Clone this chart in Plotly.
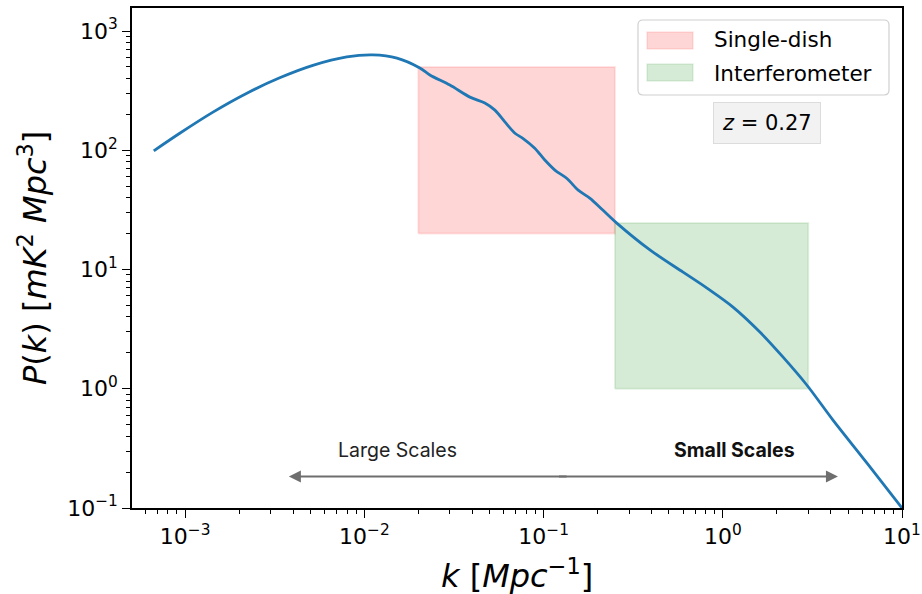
import numpy as np
import plotly.graph_objects as go

# ---- data ----
k_vals = [6.68e-4, 9.33e-4, 1.43e-3, 2.21e-3, 3.37e-3, 5.16e-3, 7.98e-3, 0.01115, 0.0152,
          0.0204, 0.0232, 0.0300, 0.0388, 0.0470, 0.0535, 0.0608, 0.0692, 0.0766, 0.0893,
          0.1016, 0.1156, 0.135, 0.156, 0.181, 0.214, 0.256, 0.392, 0.600, 0.816, 1.14,
          1.61, 2.17, 2.95, 4.12, 6.38, 10.0]
pk_vals = [99, 139, 209, 301, 405, 515, 606, 630, 593,
           490, 428, 352, 279, 249, 217, 173, 139, 126, 104,
           82.8, 68.2, 58.0, 46.3, 39.7, 31.5, 24.5, 14.6, 9.5, 6.98, 4.84,
           2.99, 1.84, 1.07, 0.546, 0.238, 0.1]

single_dish_k = [0.02, 0.25]
single_dish_p = [20, 500]
interf_k = [0.25, 3.0]
interf_p = [1.0, 24.5]

arrow_center_k = 0.128
arrow_left_k = 0.00379
arrow_right_k = 4.39
arrow_p = 0.184
large_label_k, small_label_k, label_p = 0.0154, 1.168, 0.305

legend_names = ["Single-dish", "Interferometer"]
z_label = "<i>z</i> = 0.27"

x_major = [1e-3, 1e-2, 1e-1, 1e0, 1e1]
x_major_text = ["10<sup>−3</sup>", "10<sup>−2</sup>", "10<sup>−1</sup>", "10<sup>0</sup>", "10<sup>1</sup>"]
y_major = [1e-1, 1e0, 1e1, 1e2, 1e3]
y_major_text = ["10<sup>−1</sup>", "10<sup>0</sup>", "10<sup>1</sup>", "10<sup>2</sup>", "10<sup>3</sup>"]

x_minor = [m * 10.0 ** e for e in range(-4, 1) for m in range(2, 10)]
y_minor = [m * 10.0 ** e for e in range(-1, 3) for m in range(2, 10)]

FONT = "DejaVu Sans"
RED_FILL, RED_EDGE = "rgba(255,0,0,0.16)", "rgba(255,0,0,0.10)"
GRN_FILL, GRN_EDGE = "rgba(0,128,0,0.16)", "rgba(0,128,0,0.10)"

# plot area in pixels (for converting paper positions)
L, R, T, B = 132, 902, 8, 508
def px(x):
    return (x - L) / (R - L)
def py(y):
    return (B - y) / (B - T)

def rect(kx, pyv):
    xs = [kx[0], kx[1], kx[1], kx[0], kx[0]]
    ys = [pyv[0], pyv[0], pyv[1], pyv[1], pyv[0]]
    return xs, ys

fig = go.Figure()
xs, ys = rect(single_dish_k, single_dish_p)
fig.add_trace(go.Scatter(x=xs, y=ys, fill="toself", mode="lines",
                         fillcolor=RED_FILL, line=dict(color=RED_EDGE, width=2),
                         name=legend_names[0], showlegend=False, hoverinfo="skip"))
xs, ys = rect(interf_k, interf_p)
fig.add_trace(go.Scatter(x=xs, y=ys, fill="toself", mode="lines",
                         fillcolor=GRN_FILL, line=dict(color=GRN_EDGE, width=2),
                         name=legend_names[1], showlegend=False, hoverinfo="skip"))
fig.add_trace(go.Scatter(x=k_vals, y=pk_vals, mode="lines",
                         line=dict(color="#1f77b4", width=2.8, shape="spline", smoothing=0.9),
                         showlegend=False))

axis_common = dict(showline=True, linecolor="black", linewidth=1.5, mirror=True,
                   ticks="outside", ticklen=8, tickwidth=1.3, tickcolor="black",
                   showgrid=False, zeroline=False, type="log", automargin=False,
                   tickfont=dict(family=FONT, size=22, color="black"))
fig.update_xaxes(**axis_common, range=[np.log10(5.05e-4), 1.0],
                 tickmode="array", tickvals=x_major, ticktext=x_major_text,
                 minor=dict(tickmode="array", tickvals=x_minor, ticks="outside",
                            ticklen=4.5, tickwidth=1.1, tickcolor="black", showgrid=False))
fig.update_yaxes(**axis_common, range=[-1.0, 3.193],
                 tickmode="array", tickvals=y_major, ticktext=y_major_text,
                 minor=dict(tickmode="array", tickvals=y_minor, ticks="outside",
                            ticklen=4.5, tickwidth=1.1, tickcolor="black", showgrid=False))

ann = []
# arrows (tails overlap slightly past the centre so no gap shows)
for tip, tail in ((arrow_left_k, arrow_center_k * 1.07), (arrow_right_k, arrow_center_k / 1.07)):
    ann.append(dict(x=np.log10(tip), y=np.log10(arrow_p), xref="x", yref="y",
                    ax=np.log10(tail), ay=np.log10(arrow_p), axref="x", ayref="y",
                    text="", showarrow=True, arrowhead=2, arrowsize=1.2, arrowwidth=2,
                    arrowcolor="#6e6e6e"))
ann.append(dict(x=np.log10(large_label_k), y=np.log10(label_p), xref="x", yref="y",
                text="Large Scales", showarrow=False,
                font=dict(family="Inter", size=19.5, color="#222")))
ann.append(dict(x=np.log10(small_label_k), y=np.log10(label_p), xref="x", yref="y",
                text="<b>Small Scales</b>", showarrow=False,
                font=dict(family="Inter", size=19.5, color="#111")))
# z box
ann.append(dict(x=px(767), y=py(123), xref="paper", yref="paper", text=z_label,
                xanchor="center", yanchor="middle",
                showarrow=False, bgcolor="#f2f2f2", bordercolor="#dcdcdc", borderwidth=1,
                borderpad=8, font=dict(family=FONT, size=21, color="black")))
# manual legend texts
for name, yc in zip(legend_names, (40, 73)):
    ann.append(dict(x=px(712), y=py(yc), xref="paper", yref="paper", text=name,
                    xanchor="left", yanchor="middle", showarrow=False,
                    font=dict(family=FONT, size=21.5, color="black")))
# axis titles
ann.append(dict(x=px(33), y=0.5, xref="paper", yref="paper",
                text="<i>P</i>(<i>k</i>) [<i>mK</i><sup>2</sup> <i>Mpc</i><sup>3</sup>]",
                textangle=-90, showarrow=False, xanchor="center", yanchor="middle",
                font=dict(family=FONT, size=32, color="black")))
ann.append(dict(x=0.5, y=py(574), xref="paper", yref="paper",
                text="<i>k</i> [<i>Mpc</i><sup>−1</sup>]",
                showarrow=False, xanchor="center", yanchor="middle",
                font=dict(family=FONT, size=32, color="black")))

# manual legend frame (rounded) and patches
x0, x1, y0, y1 = px(638), px(889), py(95), py(20)
rx, ry = 5 / (R - L), 5 / (B - T)
path = (f"M {x0+rx},{y0} L {x1-rx},{y0} Q {x1},{y0} {x1},{y0+ry} "
        f"L {x1},{y1-ry} Q {x1},{y1} {x1-rx},{y1} L {x0+rx},{y1} "
        f"Q {x0},{y1} {x0},{y1-ry} L {x0},{y0+ry} Q {x0},{y0} {x0+rx},{y0} Z")
shapes = [dict(type="path", path=path, xref="paper", yref="paper",
               fillcolor="rgba(255,255,255,0.85)", line=dict(color="#d0d0d0", width=1.2))]
for (fc, ec), (ya, yb) in zip(((RED_FILL, RED_EDGE), (GRN_FILL, GRN_EDGE)), ((49, 32), (81, 64))):
    shapes.append(dict(type="rect", xref="paper", yref="paper",
                       x0=px(647), x1=px(693), y0=py(ya), y1=py(yb),
                       fillcolor=fc, line=dict(color=ec, width=1.5)))

fig.update_layout(
    width=922, height=594,
    margin=dict(l=L, r=922 - R, t=T, b=594 - B),
    paper_bgcolor="white", plot_bgcolor="white",
    annotations=ann, shapes=shapes,
    showlegend=False,
)

fig.write_html("out.html")
